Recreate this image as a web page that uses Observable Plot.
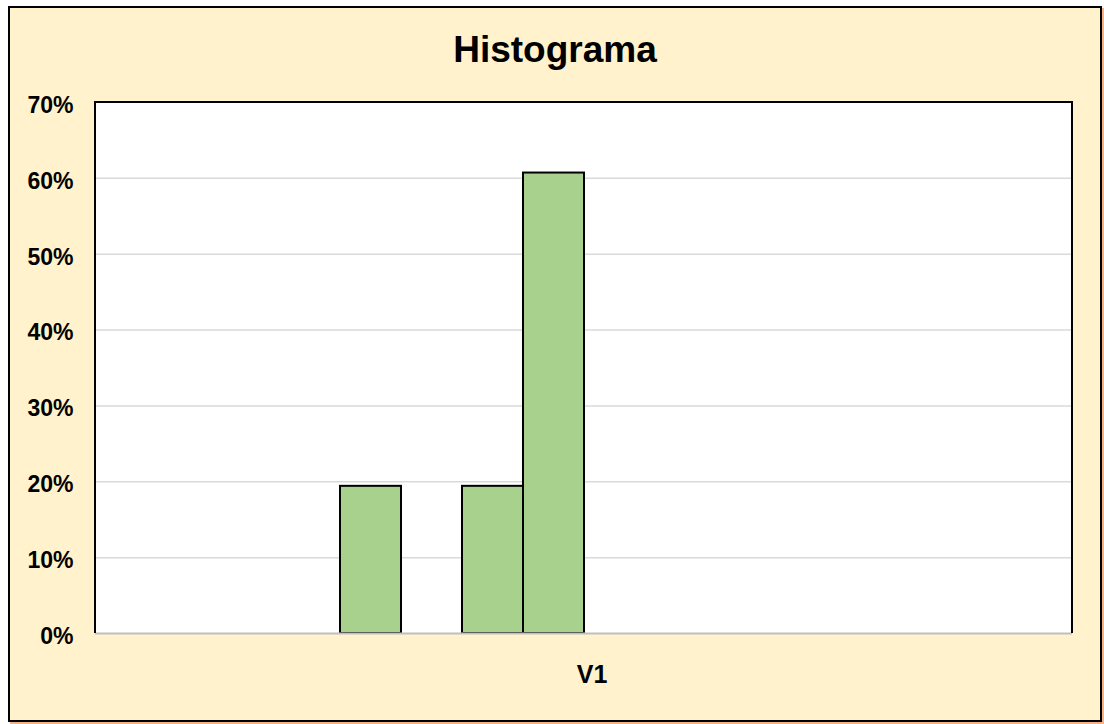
<!DOCTYPE html>
<html>
<head>
<meta charset="utf-8">
<script src="https://cdn.jsdelivr.net/npm/d3@7"></script>
<script src="https://cdn.jsdelivr.net/npm/@observablehq/plot@0.6"></script>
<style>
  html, body { margin: 0; padding: 0; background: #ffffff; }
  #wrap { position: relative; width: 1104px; height: 724px; overflow: hidden; font-family: "Liberation Sans", Arial, sans-serif; }
  #chart { position: absolute; left: 8px; top: 6px; width: 1094px; height: 716px; box-sizing: border-box;
           border: 2.5px solid #000; background: #FFF2CC; box-shadow: 2px 2px 0 #F4B183; }
  #title { position: absolute; left: 8px; width: 1094px; top: 28px; line-height: 44px; text-align: center;
           font-size: 37px; font-weight: bold; color: #000; }
  #plot { position: absolute; left: 0; top: 80px; }
</style>
</head>
<body>
<div id="wrap">
  <div id="chart"></div>
  <div id="title">Histograma</div>
  <div id="plot"></div>
</div>
<script>
// Histogram bins (16 classes) and relative frequencies
const bins = ["1","2","3","4","5","6","7","8","9","10","11","12","13","14","15","16"];
const freqs = [0, 0, 0, 0, 0.194, 0, 0.194, 0.607, 0, 0, 0, 0, 0, 0, 0, 0];
const yTicks = [0, 0.1, 0.2, 0.3, 0.4, 0.5, 0.6, 0.7];
const xLabel = "V1";

const data = bins.map((b, i) => ({bin: b, pct: freqs[i]}));

const chart = Plot.plot({
  width: 1104,
  height: 640,
  marginLeft: 95,
  marginRight: 32,
  marginTop: 22,
  marginBottom: 87,
  style: {background: "transparent", fontFamily: "'Liberation Sans', Arial, sans-serif", color: "#000", overflow: "visible"},
  x: {type: "band", domain: bins, padding: 0, axis: null},
  y: {domain: [0, 0.7], axis: null},
  marks: [
    Plot.frame({fill: "#ffffff", stroke: null}),
    Plot.gridY(yTicks.filter(t => t > 0 && t < 0.7), {stroke: "#D9D9D9", strokeOpacity: 1, strokeWidth: 1.5}),
    Plot.barY(data, {filter: d => d.pct > 0, x: "bin", y: "pct", fill: "#A9D18E", stroke: "#000", strokeWidth: 2, inset: 0}),
    Plot.ruleY([0], {stroke: "#BFBFBF", strokeWidth: 2}),
    Plot.axisY({ticks: yTicks, tickFormat: d3.format(".0%"), tickSize: 0, tickPadding: 22, fontSize: 23, fontWeight: "bold", fill: "#000", dy: 3, label: null}),
    Plot.text([xLabel], {frameAnchor: "bottom", dy: 49, dx: 8, fontSize: 25, fontWeight: "bold", fill: "#000"})
  ]
});

// Plot-area outline: black on top, left and right (bottom is the grey axis line)
document.getElementById("plot").append(chart);
const svg = d3.select(chart);
const x0 = 95, x1 = 1104 - 32, y0 = 22, y1 = 640 - 87;
svg.append("path")
  .attr("d", `M${x0},${y1}V${y0}H${x1}V${y1}`)
  .attr("fill", "none").attr("stroke", "#000").attr("stroke-width", 2);
</script>
</body>
</html>
